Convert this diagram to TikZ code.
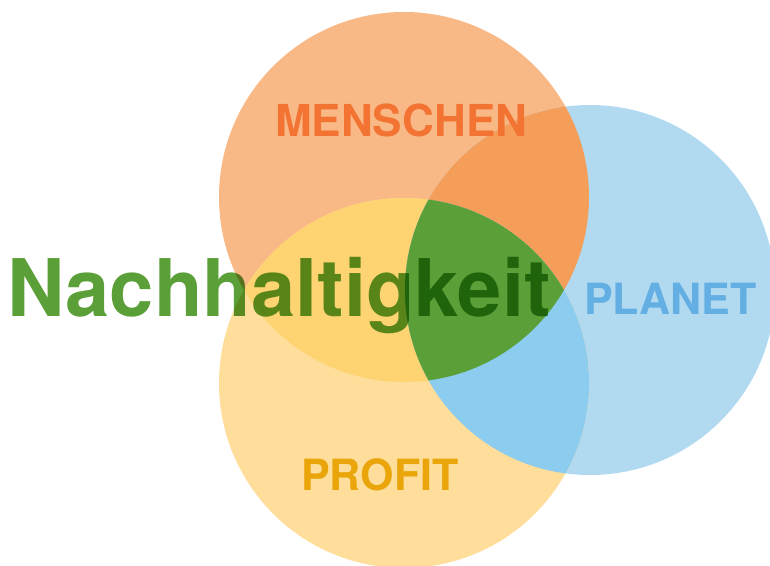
\documentclass[tikz,border=0pt]{standalone}
\usepackage{fontspec}
\setmainfont{TeX Gyre Heros}
\usetikzlibrary{positioning}

\definecolor{menschenlight}{HTML}{F9B987}
\definecolor{planetlight}{HTML}{B1DAF1}
\definecolor{profitlight}{HTML}{FEDE9A}
\definecolor{menschenprofit}{HTML}{FDD471}
\definecolor{menschenplanet}{HTML}{F59E59}
\definecolor{planetprofit}{HTML}{8CCCEE}
\definecolor{kerngreen}{HTML}{5A9F37}
\definecolor{menschentext}{HTML}{F37432}
\definecolor{planettext}{HTML}{63AEE2}
\definecolor{profittext}{HTML}{E9A50A}

\begin{document}
\begin{tikzpicture}[x=1pt,y=-1pt,
    circle label/.style={font=\bfseries\fontsize{43}{43}\selectfont, inner sep=0pt, anchor=base west},
    title label/.style={font=\bfseries\fontsize{79.5}{79.5}\selectfont, inner sep=0pt, anchor=base west, text=kerngreen}]

    \useasboundingbox (0,0) rectangle (770,565);

    % Define the centres of the three circles
    \coordinate (M) at (404,197);
    \coordinate (P) at (590,290);
    \coordinate (F) at (404,383);
    \def\rad{185}

    % Draw the three circles
    \fill[menschenlight] (M) circle[radius=\rad];
    \fill[planetlight] (P) circle[radius=\rad];
    \fill[profitlight] (F) circle[radius=\rad];

    % Draw the pairwise overlaps
    \begin{scope}
        \clip (M) circle[radius=\rad];
        \fill[menschenprofit] (F) circle[radius=\rad];
        \fill[menschenplanet] (P) circle[radius=\rad];
    \end{scope}
    \begin{scope}
        \clip (F) circle[radius=\rad];
        \fill[planetprofit] (P) circle[radius=\rad];
    \end{scope}

    % Draw the common core of all three
    \begin{scope}
        \clip (M) circle[radius=\rad];
        \clip (F) circle[radius=\rad];
        \fill[kerngreen] (P) circle[radius=\rad];
    \end{scope}

    % Add labels for the circles
    \node[circle label, text=menschentext, font=\bfseries\fontsize{44}{44}\selectfont] (menschen) at (275,136) {MENSCHEN};
    \node[circle label, text=planettext] (planet) at (584,314) {PLANET};
    \node[circle label, text=profittext] (profit) at (301,490) {PROFIT};

    % Add the title, multiplied onto the circles
    \begin{scope}[blend mode=multiply]
        \node[title label] (title) at (7,316) {Nachhaltigkeit};
    \end{scope}

\end{tikzpicture}
\end{document}
